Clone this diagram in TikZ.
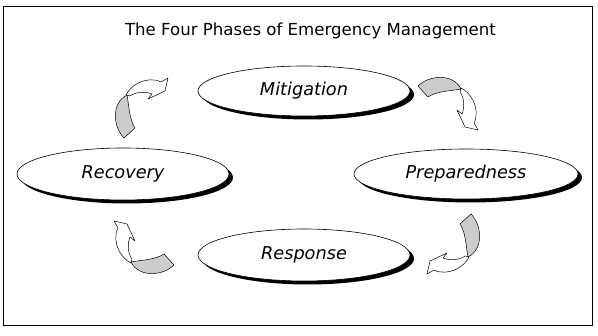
\documentclass[tikz,border=0pt]{standalone}
\usepackage{fontspec}
\setmainfont{DejaVu Sans}
\usetikzlibrary{shapes.geometric,shadows}
\definecolor{backgray}{RGB}{204,204,204}
\tikzset{
  phase/.style={ellipse, draw=black, line width=0.6pt, fill=white,
    minimum width=212pt, minimum height=50pt, inner sep=0pt,
    font=\fontsize{17.7}{20}\selectfont\itshape,
    drop shadow={shadow xshift=4pt, shadow yshift=-3.5pt, fill=black, opacity=1}},
  arrowline/.style={draw=black, line width=0.5pt, line join=round},
  frame/.style={draw=black, line width=1pt},
  titletext/.style={font=\fontsize{16.6}{19}\selectfont}
}
\newcommand{\cyclearrow}{%
  \draw[arrowline, fill=backgray] (1,-1) .. controls (-10,10) and (-12,34) .. (4,42)
     .. controls (6,32) and (6,18) .. (12,9) -- cycle;
  \draw[arrowline, fill=white] (3,42) .. controls (8,52) and (20,58) .. (30,57)
     .. controls (34,57) and (36,56) .. (38,55) -- (45,59) -- (42,46) -- (25,38) -- (29,43)
     .. controls (22,46) and (12,45) .. (7,41) -- cycle;
}
\begin{document}
\begin{tikzpicture}[x=1pt,y=1pt]
  \useasboundingbox (0,0) rectangle (598,336);
  \draw[frame] (3.5,329.5) rectangle (592.5,10.5);
  \node[titletext] (title) at (310.5,305) {The Four Phases of Emergency Management};
  \node[phase] (mit) at (304,245) {Mitigation};
  \node[phase, minimum width=224pt] (prep) at (466,162) {Preparedness};
  \node[phase, minimum height=52pt] (resp) at (304,81) {Response};
  \node[phase, minimum height=52pt] (rec) at (123,162) {Recovery};
  \begin{scope}[shift={(123,199)}]\cyclearrow\end{scope}
  \begin{scope}[shift={(419,251)}, rotate=-90]\cyclearrow\end{scope}
  \begin{scope}[shift={(472,121)}, rotate=180]\cyclearrow\end{scope}
  \begin{scope}[shift={(173,70)}, rotate=90]\cyclearrow\end{scope}
\end{tikzpicture}
\end{document}
